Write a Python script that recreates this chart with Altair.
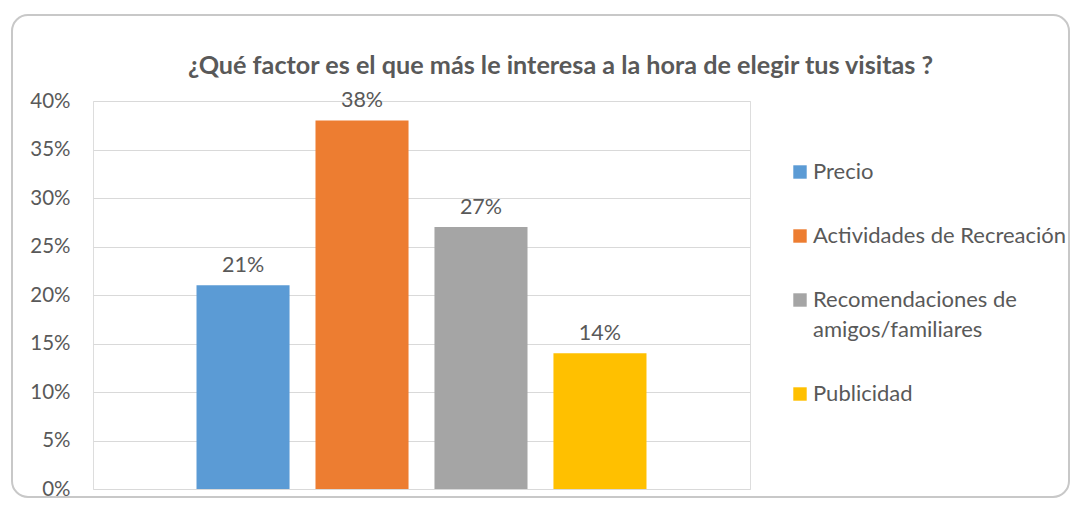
import altair as alt
import pandas as pd

categories = ["Precio", "Actividades de Recreación", "Recomendaciones de amigos/familiares", "Publicidad"]
values = [0.21, 0.38, 0.27, 0.14]
colors = ["#5B9BD5", "#ED7D31", "#A5A5A5", "#FFC000"]
title_text = "¿Qué factor es el que más le interesa a la hora de elegir tus visitas ?"

df = pd.DataFrame({"Factor": categories, "Valor": values})

TXT = "#595959"
FONT = "Lato"
W, H = 657, 388

base = alt.Chart(df).encode(
    x=alt.X("Factor:N", sort=categories, axis=None,
            scale=alt.Scale(paddingInner=0.218, paddingOuter=0.87)),
    y=alt.Y("Valor:Q", scale=alt.Scale(domain=[0, 0.4]),
            axis=alt.Axis(format=".0%", values=[0, 0.05, 0.1, 0.15, 0.2, 0.25, 0.3, 0.35, 0.4],
                          title=None, domain=False, ticks=False, labelPadding=23,
                          labelFont=FONT, labelFontSize=20.5, labelColor=TXT,
                          gridColor="#D9D9D9", gridWidth=1)),
)

bars = base.mark_bar().encode(
    color=alt.Color("Factor:N", sort=categories,
                    scale=alt.Scale(domain=categories, range=colors),
                    legend=alt.Legend(
                        title=None, orient="none", legendX=696, legendY=60,
                        symbolType="square", symbolSize=180, symbolStrokeWidth=0,
                        labelFont=FONT, labelFontSize=22, labelColor=TXT,
                        labelOffset=2, rowPadding=42, labelLimit=400,
                        labelExpr="datum.label == 'Recomendaciones de amigos/familiares' ? ['Recomendaciones de', 'amigos/familiares'] : datum.label",
                    ))
)

labels = base.mark_text(baseline="bottom", dy=-8, font=FONT, fontSize=21.5, color=TXT).encode(
    text=alt.Text("Valor:Q", format=".0%")
)

frame = alt.Chart(alt.Data(values=[{"a": 1}])).mark_rect(
    fill="transparent", stroke="#C8C8C8", strokeWidth=2, cornerRadius=16, clip=False
).encode(
    x=alt.value(-81), x2=alt.value(976), y=alt.value(-86), y2=alt.value(396)
)

chart = alt.layer(frame, bars, labels).properties(
    width=W, height=H,
    autosize=alt.AutoSizeParams(type="none"),
    padding={"left": 85, "top": 93, "right": 322, "bottom": 9},
    title=alt.TitleParams(title_text, font=FONT, fontSize=25.2, fontWeight="bold",
                          color=TXT, anchor="middle", frame="group", dx=139, offset=-65),
).configure_view(stroke=None).configure(style={"guide-label": {"lineHeight": 30}})

chart.save("out.html", embed_options={"renderer": "svg", "actions": False})
